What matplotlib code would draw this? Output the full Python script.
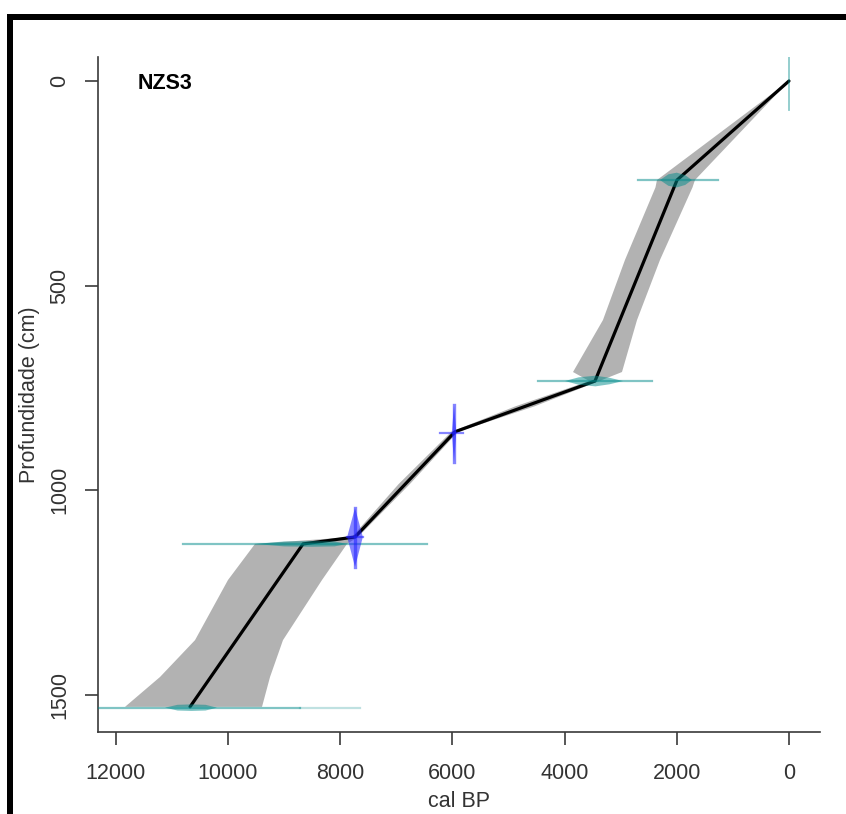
import matplotlib
matplotlib.use("Agg")
import matplotlib.pyplot as plt
from matplotlib.patches import Rectangle
import numpy as np

plt.rcParams['font.family'] = ['Liberation Sans', 'DejaVu Sans']

# ---- data ----
# age-depth model (best fit)
model_age = [0, 1996, 3458, 5954, 7736, 8663, 10677]
model_depth = [0, 242, 733, 857, 1114, 1131, 1529]

# uncertainty envelope
env_depth = [0, 242, 260, 437, 584, 711, 733, 795, 857, 985, 1114, 1131, 1219, 1366, 1456, 1529]
env_old = [0, 2353, 2380, 2923, 3316, 3850, 3560, 4880, 6020, 6960, 7790, 9519, 10000, 10588, 11212, 11836]
env_young = [0, 1676, 1720, 2299, 2709, 2977, 3380, 4540, 5900, 6760, 7683, 7879, 8324, 9020, 9251, 9394]

# cyan dates: depth, line range (old, young), blob ages and half-heights
surface_age = 0
surface_depth_range = [-64, 71]

date_depth = [242, 733, 1131, 1531]
date_line_old = [2690, 4474, 10802, 12500]
date_line_young = [1265, 2442, 6450, 8717]
date_blob_ages = [
    [2300, 2150, 2000, 1850, 1730],
    [3993, 3750, 3450, 3200, 2959],
    [9519, 9000, 8500, 8100, 7879],
    [11123, 10900, 10650, 10400, 10196],
]
date_blob_half = [
    [0, 14, 18, 12, 0],
    [0, 9, 13, 8, 0],
    [0, 6, 7, 6, 0],
    [0, 7, 8, 7, 0],
]
tail_old = 8717
tail_young = 7647
tail_depth = 1531

# blue dates: centre age, centre depth, depth extent, age arm extent, max half-width (years)
blue_age = [5971, 7736]
blue_depth = [859, 1114]
blue_depth_top = [792, 1043]
blue_depth_bot = [931, 1187]
blue_arm_old = [6221, 7879]
blue_arm_young = [5811, 7594]
blue_halfwidth = [40, 140]

xticks = [12000, 10000, 8000, 6000, 4000, 2000, 0]
yticks = [0, 500, 1000, 1500]

# ---- figure ----
W, H = 846, 814
fig = plt.figure(figsize=(W / 100, H / 100), dpi=100)
ax = fig.add_axes([97.7 / W, 82.3 / H, (820 - 97.7) / W, (731.7 - 57) / H])

ax.set_xlim(12323, -553)
ax.set_ylim(1589.7, -58.6)

axis_col = '#3a3a3a'
for s in ['top', 'right']:
    ax.spines[s].set_visible(False)
for s in ['left', 'bottom']:
    ax.spines[s].set_color(axis_col)
    ax.spines[s].set_linewidth(1.2)

# envelope
poly_x = list(env_old) + list(env_young[::-1])
poly_y = list(env_depth) + list(env_depth[::-1])
ax.fill(poly_x, poly_y, color='#b2b2b2', lw=0, zorder=1)

# model line
ax.plot(model_age, model_depth, color='black', lw=2.3, zorder=3, solid_capstyle='round')

teal = '#008b8b'
# surface date
ax.plot([surface_age, surface_age], surface_depth_range, color=teal, alpha=0.45, lw=1.3, zorder=4)

for d, lo, yo, ba, bh in zip(date_depth, date_line_old, date_line_young, date_blob_ages, date_blob_half):
    ax.plot([lo, yo], [d, d], color=teal, alpha=0.5, lw=1.6, zorder=4)
    ba = np.array(ba)
    bh = np.array(bh)
    ax.fill(np.concatenate([ba, ba[::-1]]), np.concatenate([d - bh, (d + bh)[::-1]]),
            color=teal, alpha=0.5, lw=0, zorder=4)
ax.plot([tail_old, tail_young], [tail_depth, tail_depth], color=teal, alpha=0.25, lw=1.6, zorder=4)

blue = '#2020ff'
for a, d, dt, db, ao, ay, hw in zip(blue_age, blue_depth, blue_depth_top, blue_depth_bot,
                                     blue_arm_old, blue_arm_young, blue_halfwidth):
    ax.fill([a, a + hw, a, a - hw], [dt, d, db, d], color=blue, alpha=0.55, lw=0, zorder=5)
    ax.plot([a, a], [dt, db], color=blue, alpha=0.55, lw=2.4, zorder=5)
    ax.plot([ao, ay], [d, d], color=blue, alpha=0.55, lw=1.6, zorder=5)

ax.set_xticks(xticks)
ax.set_xticklabels([str(t) for t in xticks])
ax.set_yticks(yticks)
ax.set_yticklabels([str(t) for t in yticks], rotation=90, va='center')
ax.tick_params(axis='both', length=9.5, width=1.2, color=axis_col, labelsize=15.5,
               labelcolor='#333333')
ax.tick_params(axis='x', pad=13)
ax.tick_params(axis='y', pad=10)

ax.set_xlabel('cal BP', fontsize=15.5, color='#333333', labelpad=5)
ax.set_ylabel('Profundidade (cm)', fontsize=15.5, color='#333333', labelpad=7)

ax.text(11604, 20, 'NZS3', fontsize=15.5, fontweight='bold', ha='left', va='baseline', zorder=6)

# outer black frame (top and left)
fig.add_artist(Rectangle((7 / W, (H - 20) / H), 1 - 7 / W, 6 / H, transform=fig.transFigure,
                         facecolor='black', edgecolor='none'))
fig.add_artist(Rectangle((7 / W, 0), 6 / W, (H - 14) / H, transform=fig.transFigure,
                         facecolor='black', edgecolor='none'))

fig.savefig('out.png', dpi=100)
